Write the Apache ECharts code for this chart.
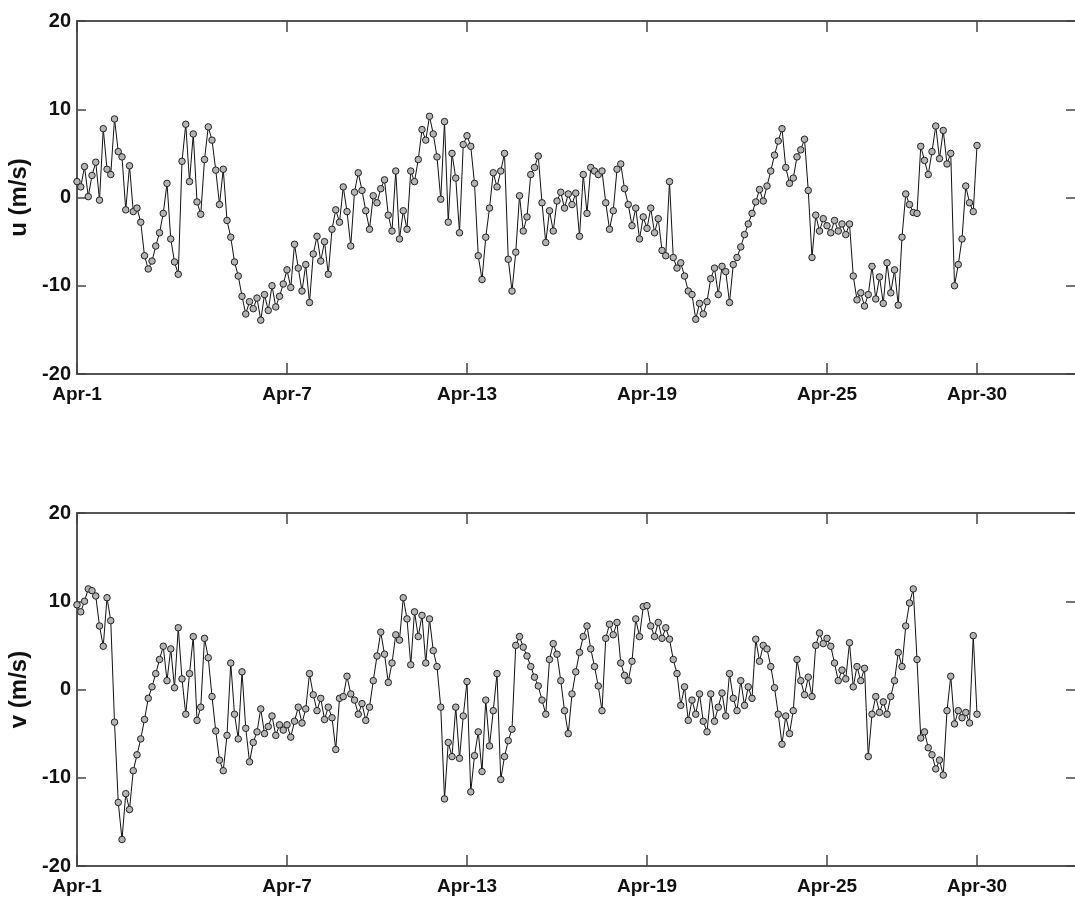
<!DOCTYPE html>
<html>
<head>
<meta charset="utf-8">
<title>u / v wind components, April</title>
<script src="https://cdn.jsdelivr.net/npm/echarts@6/dist/echarts.min.js"></script>
<style>
  html, body { margin: 0; padding: 0; background: #fff; }
  #chart { width: 1075px; height: 905px; }
</style>
</head>
<body>
<div id="chart"></div>
<script>
// one sample every 3 hours, starting Apr-1 00:00 (8 samples per row = 1 day)
const stepHours = 3

const uSpeed = [
  1.8, 1.2, 3.5, 0.1, 2.5, 4.0, -0.3, 7.8,
  3.2, 2.6, 8.9, 5.2, 4.6, -1.4, 3.6, -1.6,
  -1.2, -2.8, -6.6, -8.1, -7.2, -5.5, -4.0, -1.8,
  1.6, -4.7, -7.3, -8.7, 4.1, 8.3, 1.8, 7.2,
  -0.5, -1.9, 4.3, 8.0, 6.5, 3.1, -0.8, 3.2,
  -2.6, -4.5, -7.3, -8.9, -11.2, -13.2, -11.8, -12.6,
  -11.4, -13.9, -11.0, -12.8, -10.0, -12.4, -11.2, -9.8,
  -8.2, -10.2, -5.3, -8.0, -10.6, -7.6, -11.9, -6.4,
  -4.4, -7.2, -5.0, -8.7, -3.6, -1.4, -2.8, 1.2,
  -1.6, -5.5, 0.6, 2.8, 0.8, -1.5, -3.6, 0.2,
  -0.6, 1.0, 2.0, -2.0, -3.8, 3.0, -4.7, -1.5,
  -3.6, 3.0, 1.8, 4.3, 7.7, 6.5, 9.2, 7.2,
  4.6, -0.2, 8.6, -2.8, 5.0, 2.2, -4.0, 6.0,
  7.0, 5.8, 1.6, -6.6, -9.3, -4.5, -1.2, 2.8,
  1.2, 3.0, 5.0, -7.0, -10.6, -6.2, 0.2, -3.8,
  -2.2, 2.6, 3.4, 4.7, -0.6, -5.1, -1.5, -3.8,
  -0.4, 0.6, -1.2, 0.4, -0.8, 0.5, -4.4, 2.6,
  -1.8, 3.4, 3.0, 2.6, 3.0, -0.6, -3.6, -1.5,
  3.2, 3.8, 1.0, -0.8, -3.2, -1.2, -4.7, -2.2,
  -3.5, -1.2, -4.0, -2.4, -6.0, -6.6, 1.8, -6.8,
  -8.0, -7.4, -8.9, -10.6, -11.0, -13.8, -12.0, -13.2,
  -11.8, -9.2, -8.0, -11.0, -7.8, -8.4, -11.9, -7.6,
  -6.8, -5.6, -4.2, -3.0, -1.8, -0.5, 0.9, -0.4,
  1.3, 3.0, 4.8, 6.4, 7.8, 3.4, 1.6, 2.2,
  4.6, 5.4, 6.6, 0.8, -6.8, -2.0, -3.8, -2.4,
  -3.2, -4.0, -2.6, -3.8, -3.0, -4.2, -3.0, -8.9,
  -11.6, -10.8, -12.3, -11.0, -7.8, -11.5, -9.0, -12.0,
  -7.4, -10.8, -8.2, -12.2, -4.5, 0.4, -0.8, -1.7,
  -1.8, 5.8, 4.2, 2.6, 5.2, 8.1, 4.4, 7.6,
  3.8, 5.0, -10.0, -7.6, -4.7, 1.3, -0.6, -1.6,
  5.9
]

const vSpeed = [
  9.6, 8.8, 10.0, 11.4, 11.2, 10.6, 7.2, 4.9,
  10.4, 7.8, -3.7, -12.8, -17.0, -11.8, -13.6, -9.2,
  -7.4, -5.6, -3.4, -1.0, 0.3, 1.8, 3.4, 4.9,
  1.0, 4.6, 0.2, 7.0, 1.2, -2.8, 1.8, 6.0,
  -3.5, -2.0, 5.8, 3.6, -0.8, -4.7, -8.0, -9.2,
  -5.2, 3.0, -2.8, -5.6, 2.0, -4.4, -8.2, -6.0,
  -4.8, -2.2, -5.0, -4.2, -3.0, -5.2, -4.0, -4.6,
  -4.0, -5.4, -3.6, -2.0, -3.8, -2.2, 1.8, -0.6,
  -2.4, -1.0, -3.4, -2.0, -3.2, -6.8, -1.0, -0.8,
  1.5, -0.5, -1.2, -2.8, -1.6, -3.5, -2.0, 1.0,
  3.8, 6.5, 4.0, 0.8, 3.0, 6.2, 5.6, 10.4,
  8.0, 2.8, 8.8, 6.0, 8.4, 3.0, 8.0, 4.4,
  2.6, -2.0, -12.4, -6.0, -7.6, -2.0, -7.8, -3.0,
  0.9, -11.6, -7.5, -4.8, -9.3, -1.2, -6.4, -2.4,
  1.8, -10.2, -7.6, -5.8, -4.5, 5.0, 6.0, 4.8,
  3.8, 2.6, 1.4, 0.4, -1.2, -2.8, 3.4, 5.2,
  4.0, 1.0, -2.4, -5.0, -0.5, 2.0, 4.2, 6.0,
  7.2, 4.6, 2.6, 0.4, -2.4, 5.8, 7.4, 6.2,
  7.6, 3.0, 1.6, 1.0, 3.2, 8.0, 6.0, 9.4,
  9.5, 7.2, 6.0, 7.6, 5.8, 7.0, 5.7, 3.4,
  1.8, -1.8, 0.3, -3.5, -1.2, -2.8, -0.5, -3.6,
  -4.8, -0.5, -3.6, -2.0, -0.4, -3.0, 1.8, -1.0,
  -2.4, 1.0, -1.8, 0.3, -1.0, 5.7, 3.2, 5.0,
  4.6, 2.6, 0.2, -2.8, -6.2, -3.0, -5.0, -2.4,
  3.4, 1.0, -0.6, 1.4, -0.8, 5.0, 6.4, 5.2,
  5.8, 4.9, 3.0, 1.0, 2.2, 1.2, 5.3, 0.3,
  2.6, 1.0, 2.4, -7.6, -2.8, -0.8, -2.6, -1.4,
  -2.8, -0.8, 1.0, 4.2, 2.6, 7.2, 9.8, 11.4,
  3.4, -5.5, -4.8, -6.6, -7.4, -9.0, -8.0, -9.7,
  -2.4, 1.5, -3.9, -2.4, -3.2, -2.6, -3.8, 6.1,
  -2.8
]

// x ticks in days after Apr-1 00:00
const tickDays = [0, 7, 13, 19, 25, 30]
const tickLabels = ['Apr-1', 'Apr-7', 'Apr-13', 'Apr-19', 'Apr-25', 'Apr-30']

const chart = echarts.init(document.getElementById('chart'))

const toPoints = arr => arr.map((val, i) => [i * stepHours / 24, val])

const lineColor = '#555'
const tickLen = 11
const font = 'Liberation Sans, Arial, sans-serif'

// bottom/top x axis for one panel (box is a bit wider than the page, like the original)
function xAxes (grid) {
  const base = {
    type: 'value',
    gridIndex: grid,
    min: 0,
    max: 33.4,
    axisLine: { show: true, onZero: false, lineStyle: { color: lineColor, width: 2 } },
    axisTick: { show: true, inside: true, length: tickLen, customValues: tickDays, lineStyle: { color: '#444', width: 1.5 } },
    splitLine: { show: false }
  }
  return [
    Object.assign({}, base, {
      position: 'bottom',
      axisLabel: {
        show: true,
        customValues: tickDays,
        margin: 11,
        fontFamily: font,
        fontWeight: 'bold',
        fontSize: 19,
        color: '#111',
        formatter: v => tickLabels[tickDays.indexOf(Math.round(v))] || ''
      }
    }),
    Object.assign({}, base, { position: 'top', axisLabel: { show: false } })
  ]
}

// left/right y axis for one panel
function yAxes (grid, name) {
  const base = {
    type: 'value',
    gridIndex: grid,
    min: -20,
    max: 20,
    interval: 10,
    axisLine: { show: true, onZero: false, lineStyle: { color: lineColor, width: 2 } },
    splitLine: { show: false }
  }
  return [
    Object.assign({}, base, {
      position: 'left',
      name: name,
      nameLocation: 'middle',
      nameGap: 38,
      nameTextStyle: {
        fontFamily: font,
        fontWeight: 'bold',
        fontSize: 24,
        color: '#111'
      },
      axisTick: { show: true, inside: true, length: 9, lineStyle: { color: '#444', width: 1.5 } },
      axisLabel: {
        show: true,
        margin: 6,
        fontFamily: font,
        fontWeight: 'bold',
        fontSize: 20,
        color: '#111'
      }
    }),
    Object.assign({}, base, {
      position: 'right',
      axisTick: { show: true, inside: true, length: 13, lineStyle: { color: '#444', width: 1.5 } },
      axisLabel: { show: false }
    })
  ]
}

function windSeries (data, idx) {
  return {
    type: 'line',
    xAxisIndex: idx,
    yAxisIndex: idx,
    data: toPoints(data),
    showAllSymbol: true,
    symbol: 'circle',
    symbolSize: 6.5,
    itemStyle: { color: '#b4b4b4', borderColor: '#222', borderWidth: 1 },
    lineStyle: { color: '#111', width: 1 },
    emphasis: { disabled: true }
  }
}

const option = {
  animation: false,
  backgroundColor: '#fff',
  grid: [
    { left: 77, top: 21, width: 1002, height: 353, outerBoundsMode: 'none' },
    { left: 77, top: 513, width: 1002, height: 353, outerBoundsMode: 'none' }
  ],
  xAxis: [...xAxes(0), ...xAxes(1)],
  yAxis: [...yAxes(0, 'u (m/s)'), ...yAxes(1, 'v (m/s)')],
  series: [
    windSeries(uSpeed, 0),
    windSeries(vSpeed, 2)
  ]
}

chart.setOption(option)
</script>
</body>
</html>
